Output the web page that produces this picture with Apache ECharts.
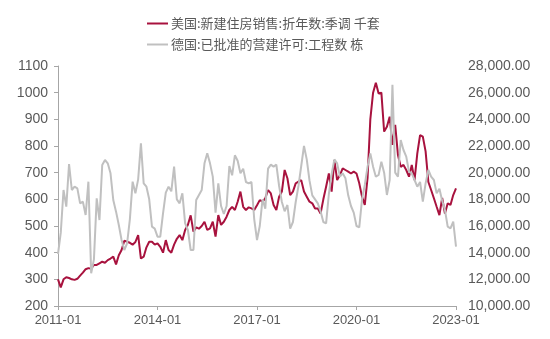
<!DOCTYPE html>
<html>
<head>
<meta charset="utf-8">
<script src="https://cdn.jsdelivr.net/npm/echarts@6/dist/echarts.min.js"></script>
<style>
html,body{margin:0;padding:0;background:#fff;}
#chart{width:550px;height:339px;}
</style>
</head>
<body>
<div id="chart"></div>
<script>
// Monthly categories 2011-01 .. 2023-01
const startYear = 2011, startMonth = 1, monthCount = 145;
const months = [];
for (let i = 0; i < monthCount; i++) {
  const y = startYear + Math.floor((startMonth - 1 + i) / 12);
  const m = ((startMonth - 1 + i) % 12) + 1;
  months.push(y + '-' + (m < 10 ? '0' + m : m));
}

const seriesNames = ['美国:新建住房销售:折年数:季调 千套', '德国:已批准的营建许可:工程数 栋'];

// US new home sales, SAAR, thousand units (left axis)
const usNewHomeSales = [
  300,270,300,308,305,300,298,302,314,325,338,342,
  340,354,354,360,366,362,372,378,385,356,390,410,
  445,441,437,430,440,466,378,385,420,441,441,430,
  435,422,400,447,410,400,430,452,466,447,485,505,
  540,479,495,490,500,516,485,491,516,460,541,504,
  516,535,560,572,560,591,629,572,560,570,566,560,
  578,597,591,604,635,622,579,560,610,629,710,679,
  616,629,660,666,672,629,610,591,585,566,566,547,
  600,647,697,629,747,672,691,716,710,704,697,704,
  697,660,610,579,680,900,1000,1037,997,1000,854,872,
  910,804,879,766,722,729,710,685,729,672,772,841,
  835,780,665,635,604,572,541,605,547,585,579,616,
  641
];

// Germany building permits, number of projects (right axis)
const dePermits = [
  13900,15500,18700,17450,20650,18700,18950,18825,17700,17825,16825,19325,
  12450,13500,18075,16450,20575,20950,20700,19950,17950,17075,16075,14950,
  14200,14700,16500,19325,18450,19500,22200,19200,18950,18000,15950,15800,
  15200,15200,16950,18500,18950,18600,20450,18000,17700,18450,16200,15700,
  14200,14200,17950,18325,18700,20700,21450,20700,19700,17000,19200,17500,
  16900,17500,20500,19800,21300,20900,19950,20300,19300,19200,19300,16500,
  14950,16000,18000,17300,20300,20600,20450,20600,19000,17800,17100,17575,
  15800,16300,17800,19000,20500,22000,21000,19400,18300,18000,17700,17100,
  16300,16200,18400,19900,21000,20700,19700,19950,19575,18300,17500,17000,
  16000,15900,18000,19075,20450,21450,20450,19700,19825,20825,20000,18325,
  19450,26600,20000,19700,22450,21700,21200,20075,19950,19450,18950,19300,
  17825,19200,20200,19700,19450,18450,18800,17900,17200,15950,15825,16325,
  14450
];

const leftMin = 200, leftMax = 1100, leftStep = 100;
const rightMin = 10000, rightMax = 28000, rightStep = 2000;

const FONT = '"Liberation Sans", Arial, "Noto Sans CJK SC", sans-serif';
const TEXT = '#595959';

const chart = echarts.init(document.getElementById('chart'), null, {renderer: 'canvas'});
chart.setOption({
  animation: false,
  backgroundColor: '#ffffff',
  textStyle: {fontFamily: FONT},
  legend: {
    orient: 'vertical',
    left: 142,
    top: 12,
    itemGap: 8,
    itemWidth: 21,
    itemHeight: 2,
    icon: 'rect',
    textStyle: {fontSize: 13, color: TEXT, fontFamily: '"Noto Sans CJK SC", sans-serif', padding: [0, 0, 0, -2]},
    data: seriesNames
  },
  grid: {left: 58, right: 94, top: 66, bottom: 33, containLabel: false},
  xAxis: {
    type: 'category',
    data: months,
    boundaryGap: false,
    axisLine: {lineStyle: {color: '#a6a6a6', width: 1}},
    axisTick: {show: true, interval: 35, length: 4, lineStyle: {color: '#a6a6a6'}},
    axisLabel: {interval: 35, color: TEXT, fontSize: 13, margin: 8, fontFamily: FONT},
    splitLine: {show: false}
  },
  yAxis: [
    {
      type: 'value', min: leftMin, max: leftMax, interval: leftStep,
      axisLine: {show: true, lineStyle: {color: '#a6a6a6'}},
      axisTick: {show: true, length: 4, lineStyle: {color: '#a6a6a6'}},
      axisLabel: {color: TEXT, fontSize: 14, margin: 10, fontFamily: FONT, formatter: v => String(v)},
      splitLine: {show: false}
    },
    {
      type: 'value', min: rightMin, max: rightMax, interval: rightStep,
      position: 'right',
      axisLine: {show: false},
      axisTick: {show: false},
      axisLabel: {
        color: TEXT, fontSize: 14, margin: 12, fontFamily: FONT,
        formatter: v => v.toLocaleString('en-US', {minimumFractionDigits: 2, maximumFractionDigits: 2})
      },
      splitLine: {show: false}
    }
  ],
  series: [
    {
      name: seriesNames[0], type: 'line', yAxisIndex: 0, data: usNewHomeSales,
      showSymbol: false, symbol: 'none',
      lineStyle: {color: '#a8123e', width: 2},
      itemStyle: {color: '#a8123e'}
    },
    {
      name: seriesNames[1], type: 'line', yAxisIndex: 1, data: dePermits,
      showSymbol: false, symbol: 'none',
      lineStyle: {color: '#c0c0c0', width: 2},
      itemStyle: {color: '#c0c0c0'}
    }
  ]
});
</script>
</body>
</html>
